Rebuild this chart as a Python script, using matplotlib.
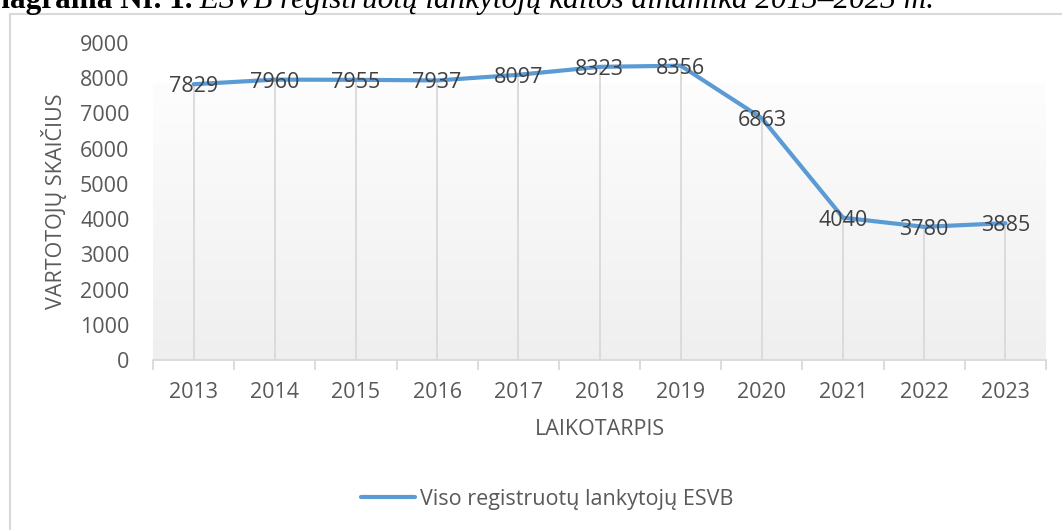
import numpy as np
import matplotlib
matplotlib.use('Agg')
import matplotlib.pyplot as plt
from matplotlib.lines import Line2D
from matplotlib.colors import LinearSegmentedColormap

# ---- data ----
years = ['2013', '2014', '2015', '2016', '2017', '2018', '2019', '2020', '2021', '2022', '2023']
visitors = [7829, 7960, 7955, 7937, 8097, 8323, 8356, 6863, 4040, 3780, 3885]
y_ticks = [0, 1000, 2000, 3000, 4000, 5000, 6000, 7000, 8000, 9000]
series_label = 'Viso registruotų lankytojų ESVB'
title_bold = 'Diagrama Nr. 1.'
title_italic = ' ESVB registruotų lankytojų kaitos dinamika 2013–2023 m.'
y_title = 'VARTOTOJŲ SKAIČIUS'
x_title = 'LAIKOTARPIS'

# ---- style ----
FONT = 'Open Sans'
TXT = '#595959'
LBL = '#404040'
GRID = '#d9d9d9'
LINE = '#5b9bd5'
FS = 15.5

W, H = 1062, 530
fig = plt.figure(figsize=(W / 100, H / 100), dpi=100)
fig.patch.set_facecolor('white')


def fx(px):
    return px / W


def fy(py):
    return 1 - py / H


ax = fig.add_axes([fx(153), fy(360), fx(1046) - fx(153), fy(43) - fy(360)])
ax.set_facecolor('white')

# gradient plot-area fill
grad = np.linspace(0, 1, 256).reshape(-1, 1)
cmap = LinearSegmentedColormap.from_list('g', ['#fdfdfd', '#efefef'])
ax.imshow(grad, cmap=cmap, aspect='auto', origin='upper',
          extent=[0, 1, 0, (360 - 83) / (360 - 43)], transform=ax.transAxes,
          zorder=0, interpolation='bilinear')

x = np.arange(len(years))
ax.vlines(x, 0, visitors, color=GRID, lw=1.3, zorder=1)
ax.plot(x, visitors, color=LINE, lw=3.0, solid_capstyle='round',
        solid_joinstyle='round', zorder=3, label=series_label)
for xi, v in zip(x, visitors):
    ax.text(xi, v, str(v), ha='center', va='center_baseline', fontsize=FS,
            family=FONT, color=LBL, zorder=4)

ax.set_xlim(-0.5, len(years) - 0.5)
ax.set_ylim(0, 9000)
ax.set_yticks(y_ticks)
ax.set_yticklabels([str(t) for t in y_ticks], family=FONT, fontsize=FS, color=TXT)
ax.set_xticks(x)
ax.set_xticklabels(years, family=FONT, fontsize=FS, color=TXT)
ax.set_xticks(np.arange(-0.5, len(years)), minor=True)
ax.tick_params(axis='x', which='major', length=0, pad=16)
ax.tick_params(axis='x', which='minor', length=7, width=1.3, color=GRID)
ax.tick_params(axis='y', length=0, pad=17)
for s in ['top', 'right', 'left']:
    ax.spines[s].set_visible(False)
ax.spines['bottom'].set_color(GRID)
ax.spines['bottom'].set_linewidth(1.3)
ax.spines['bottom'].set_zorder(2)

# axis titles
fig.text(fx(54), fy(201), y_title, rotation=90, ha='center', va='center',
         family=FONT, fontsize=FS, color=TXT)
fig.text(fx(600), fy(435), x_title, ha='center', va='baseline',
         family=FONT, fontsize=FS, color=TXT)

# legend
fig.legend(loc='center', bbox_to_anchor=(fx(547), fy(499)), frameon=False,
           prop={'family': FONT, 'size': FS}, labelcolor=TXT,
           handlelength=2.5, handletextpad=0.25)

# chart border (left and top visible)
fig.add_artist(Line2D([fx(9.5), fx(9.5)], [fy(14), 0], color=GRID, lw=1.5))
fig.add_artist(Line2D([fx(9.5), 1], [fy(14), fy(14)], color=GRID, lw=1.5))

# title, clipped at top-left as in the reference
TS = 22.4
r = fig.canvas.get_renderer()
probe = fig.text(0, 0, 'D', family='Liberation Serif', weight='bold', fontsize=TS)
dw = probe.get_window_extent(r).width
probe.remove()
tb = fig.text(fx(-dw + 1), fy(8), title_bold, family='Liberation Serif',
              weight='bold', fontsize=TS, ha='left', va='baseline', color='black')
bb = tb.get_window_extent(r)
fig.text(bb.x1 / W, fy(8), title_italic, family='Liberation Serif',
         style='italic', fontsize=TS, ha='left', va='baseline', color='black')

fig.savefig('out.png', dpi=100)
